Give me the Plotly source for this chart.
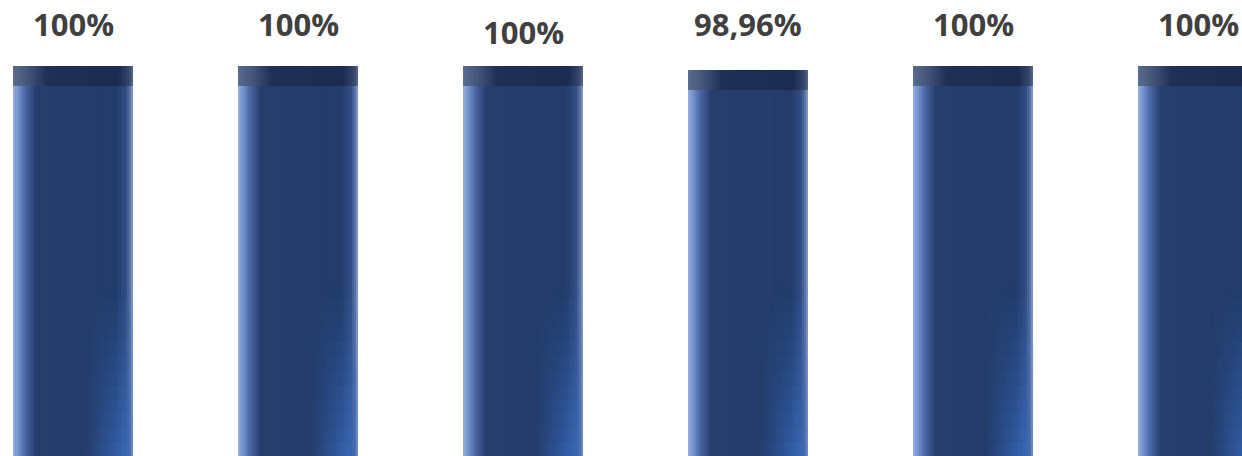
import plotly.graph_objects as go

# Data
categories = [0, 1, 2, 3, 4, 5]
values = [100, 100, 100, 98.96, 100, 100]
labels = ["100%", "100%", "100%", "98,96%", "100%", "100%"]
label_shift = [42, 42, 34, 46, 42, 42]   # px above the bar top

# Geometry (data units)
Y_MAX = 116.92
BAR_W = 0.533
CAP_H = 5.1
HL_H = 44.0


def lerp_stops(stops, t):
    if t <= stops[0][0]:
        return stops[0][1]
    for (t0, c0), (t1, c1) in zip(stops, stops[1:]):
        if t0 <= t <= t1:
            f = 0 if t1 == t0 else (t - t0) / (t1 - t0)
            return tuple(a + (b - a) * f for a, b in zip(c0, c1))
    return stops[-1][1]


body_stops = [
    (0.00, (150, 175, 222, 1)),
    (0.04, (118, 148, 206, 1)),
    (0.10, (75, 104, 165, 1)),
    (0.19, (38, 62, 108, 1)),
    (0.86, (35, 60, 106, 1)),
    (0.94, (48, 76, 130, 1)),
    (0.985, (100, 125, 180, 1)),
    (1.00, (150, 168, 212, 1)),
]
cap_stops = [
    (0.00, (92, 108, 140, 1)),
    (0.12, (68, 86, 122, 1)),
    (0.28, (32, 48, 84, 1)),
    (0.88, (28, 44, 80, 1)),
    (0.97, (55, 72, 110, 1)),
    (1.00, (90, 105, 140, 1)),
]
hl_stops = [
    (0.60, (52, 96, 172, 0.0)),
    (0.78, (52, 96, 172, 0.6)),
    (0.92, (56, 102, 180, 0.95)),
    (0.985, (66, 110, 185, 0.7)),
    (1.00, (120, 145, 200, 0.4)),
]


def rgba(c):
    return "rgba(%d,%d,%d,%.3f)" % (round(c[0]), round(c[1]), round(c[2]), c[3])


fig = go.Figure()
N = 60
sw = BAR_W / N


def add_slices(stops, base, height, t_from=0.0, alpha_mul=1.0):
    i0 = int(t_from * N)
    for i in range(i0, N):
        t = (i + 0.5) / N
        c = lerp_stops(stops, t)
        c = (c[0], c[1], c[2], c[3] * alpha_mul)
        if c[3] <= 0.005:
            continue
        w = sw * (1.6 if i < N - 1 and alpha_mul >= 1 and c[3] >= 1 else 1.0)
        fig.add_trace(go.Bar(
            x=categories, y=height, base=base,
            offset=-BAR_W / 2 + i * sw, width=w,
            marker=dict(color=rgba(c), line=dict(width=0)),
            hoverinfo="skip", showlegend=False,
        ))


# bar bodies
add_slices(body_stops, [0] * len(values), values)

# lower-right glow, fading upward
steps = 12
for k in range(steps):
    seg = HL_H / steps
    add_slices(hl_stops, [k * seg] * len(values), [seg] * len(values),
               t_from=0.6, alpha_mul=(1 - k / steps) ** 1.2)

# dark top caps
add_slices(cap_stops, [v - CAP_H for v in values], [CAP_H] * len(values))

# value labels
for x, v, lab, sh in zip(categories, values, labels, label_shift):
    fig.add_annotation(
        x=x, y=v, text=lab, showarrow=False, yanchor="middle", yshift=sh,
        font=dict(family="Open Sans", size=31, color="#404040", weight="bold"),
    )

fig.update_layout(
    width=1242, height=456,
    margin=dict(l=0, r=0, t=0, b=0),
    paper_bgcolor="white", plot_bgcolor="white",
    barmode="overlay",
    xaxis=dict(range=[-73 / 225, (1242 - 73) / 225], visible=False, fixedrange=True),
    yaxis=dict(range=[0, Y_MAX], visible=False, fixedrange=True),
)

fig.write_html("out.html")
